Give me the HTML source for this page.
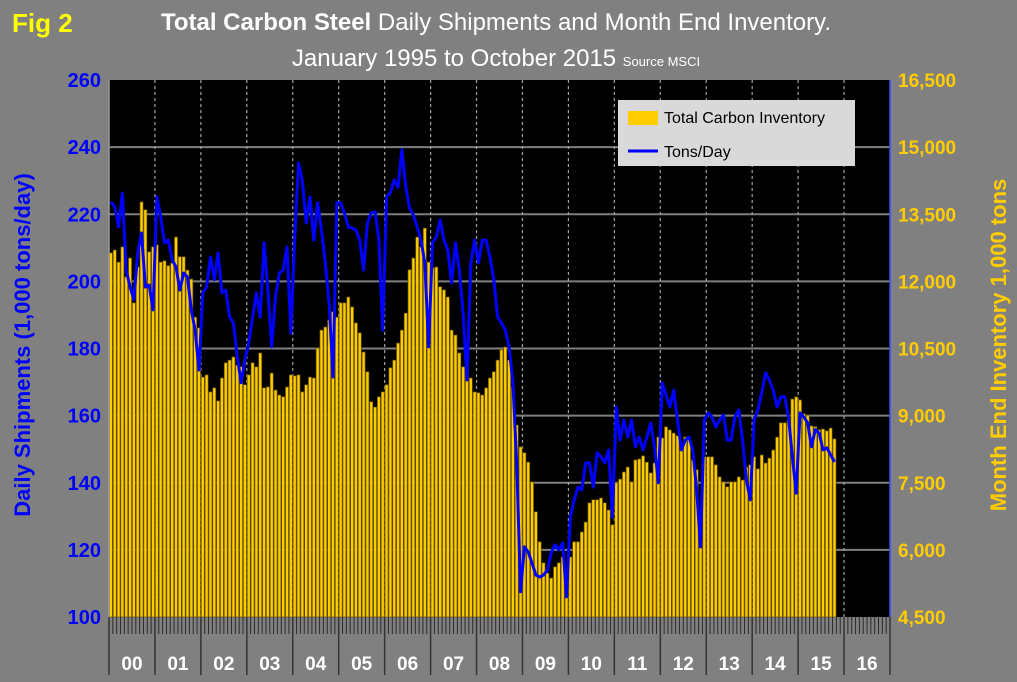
<!DOCTYPE html>
<html><head><meta charset="utf-8"><style>
body{margin:0;background:#808080;}
svg{display:block;font-family:"Liberation Sans",Arial,sans-serif;}
</style></head><body>
<svg id="chart" width="1017" height="682" viewBox="0 0 1017 682">
<rect x="0" y="0" width="1017" height="682" fill="#808080"/>
<text x="12" y="32" font-size="26" font-weight="bold" fill="#ffff00">Fig 2</text>
<text x="496" y="30" font-size="24" fill="#ffffff" text-anchor="middle"><tspan font-weight="bold">Total Carbon Steel</tspan> Daily Shipments and Month End Inventory.</text>
<text x="496" y="66" font-size="24" fill="#ffffff" text-anchor="middle">January 1995 to October 2015 <tspan font-size="13">Source MSCI</tspan></text>
<rect x="109" y="80" width="781" height="537" fill="#000000"/>
<g id="grid"></g><g id="bars"></g><g id="line"></g><g id="axes"></g>
<text transform="translate(30,345) rotate(-90)" font-size="22" font-weight="bold" fill="#0000ff" text-anchor="middle">Daily Shipments (1,000 tons/day)</text>
<text transform="translate(1006,345) rotate(-90)" font-size="22" font-weight="bold" fill="#ffcc00" text-anchor="middle">Month End Inventory 1,000 tons</text>
<g>
<rect x="618" y="100" width="237" height="66" fill="#d9d9d9"/>
<rect x="628" y="111" width="30" height="14" fill="#ffcc00"/>
<text x="664" y="123" font-size="16" fill="#000">Total Carbon Inventory</text>
<line x1="628" y1="151" x2="658" y2="151" stroke="#0000ff" stroke-width="3"/>
<text x="664" y="157" font-size="16" fill="#000">Tons/Day</text>
</g>
</svg>
<script>
const yearLabels=["00","01","02","03","04","05","06","07","08","09","10","11","12","13","14","15","16"];
const leftTicks=[100,120,140,160,180,200,220,240,260];
const rightTicks=["4,500","6,000","7,500","9,000","10,500","12,000","13,500","15,000","16,500"];
const inventory=[
12635,12700,12430,12770,12100,12520,11520,12320,13775,13600,12660,12770,
12815,12430,12460,12350,12410,12990,12550,12550,12250,12050,11200,10960,
9860,9910,9530,9620,9330,9840,10180,10240,10310,10130,10090,9690,
9910,10180,10090,10400,9620,9640,9950,9570,9460,9420,9640,9910,
9890,9910,9530,9690,9860,9840,10510,10910,10980,11140,11320,11200,
11520,11520,11650,11430,11070,10850,10420,9980,9310,9190,9420,9530,
9690,10070,10240,10620,10910,11290,12260,12520,12990,12770,13190,12430,
12300,12320,11880,11810,11650,10910,10800,10400,10090,10020,9840,9530,
9510,9460,9620,9840,9980,10240,10470,10530,10240,9640,8790,8300,
8170,7960,7520,6850,6180,5710,5480,5370,5620,5710,5840,5550,
5840,6180,6180,6400,6620,7050,7120,7120,7160,7050,6890,6560,
7500,7580,7740,7850,7520,8010,8030,8100,7960,7720,7940,8520,
8500,8750,8680,8610,8550,8230,8520,8460,8010,7790,6220,8080,
8080,8080,7900,7630,7520,7410,7520,7520,7630,7560,7850,7900,
8080,7810,8120,7940,8050,8230,8520,8840,8840,8900,9370,9420,
9350,9040,9010,8770,8750,8680,8700,8660,8720,8480];
const tonsPerDay=[
223.7,222.2,216.2,226.3,203.4,198.3,194.5,208.5,214.4,198.3,198.9,191.5,
225.2,219.2,211.5,212.3,206.4,204.3,197.4,202.5,201.3,191.5,185.5,173.6,
196.6,198.3,207.3,200.5,208.5,196.6,197.4,189.4,187.6,177.5,169.8,176.6,
181.7,189.4,196.6,189.4,211.5,197.4,180.5,195.4,202.5,203.4,210.3,184.6,
213.2,235.3,230.2,217.4,225.2,212.3,223.4,215.3,205.5,193.6,171.5,223.4,
223.4,220.4,216.2,215.9,215.3,212.3,203.4,217.4,220.4,220.7,212.3,185.5,
225.2,226.4,230.2,228.0,239.2,228.2,221.9,219.8,216.2,212.3,205.5,180.5,
211.5,213.2,218.3,212.3,209.4,199.5,211.5,203.4,190.6,170.6,205.5,212.3,
205.5,212.3,212.3,207.3,200.5,189.4,187.6,185.5,180.5,169.8,145.9,107.5,
120.9,119.4,116.1,112.5,111.9,112.5,114.0,119.1,121.5,120.0,122.1,106.0,
129.8,134.9,138.7,137.8,145.9,145.9,138.7,148.9,147.7,145.9,149.8,129.8,
162.6,152.7,158.7,153.6,158.7,150.7,153.6,149.8,153.6,157.8,150.7,140.0,
169.8,166.2,162.6,167.6,158.7,149.8,152.7,153.6,149.8,137.8,120.9,158.7,
160.8,159.6,156.6,158.7,160.2,152.7,152.7,159.6,161.7,152.7,140.8,134.9,
158.7,161.7,166.8,172.7,170.6,167.6,162.6,165.6,165.6,159.6,147.7,136.9,
160.8,159.6,157.8,150.7,155.8,154.8,149.8,150.4,148.3,146.2];
const NS="http://www.w3.org/2000/svg";
const X0=109,X1=890,Y0=80,Y1=617,NM=17*12,MW=(X1-X0)/NM;
const xM=i=>X0+i*MW;
const yL=v=>Y1-(v-100)/160*(Y1-Y0);
const yR=v=>Y1-(v-4500)/12000*(Y1-Y0);
function mk(tag,attrs,parent){const e=document.createElementNS(NS,tag);for(const k in attrs)e.setAttribute(k,attrs[k]);parent.appendChild(e);return e;}
const grid=document.getElementById('grid'),bars=document.getElementById('bars'),lineG=document.getElementById('line'),axes=document.getElementById('axes');
leftTicks.forEach((t,i)=>{
  const y=yL(t);
  if(i>0&&i<leftTicks.length-1){const g=mk('line',{x1:X0,x2:X1,y1:y,y2:y,stroke:'#7f7f7f','stroke-width':2},grid);
  
  }
  const a=mk('text',{x:X0-8,y:y+7,'font-size':20,'font-weight':'bold',fill:'#0000ff','text-anchor':'end'},axes);a.textContent=t;
  
  
  const b=mk('text',{x:X1+8,y:y+7,'font-size':19,'font-weight':'bold',fill:'#ffcc00','text-anchor':'start'},axes);b.textContent=rightTicks[i];
  
  
});
for(let k=1;k<yearLabels.length;k++){const x=xM(k*12);const g=mk('line',{x1:x,x2:x,y1:Y0,y2:Y1,stroke:'#a0a0a0','stroke-width':1.2,'stroke-dasharray':'3,3'},grid);
  
  }
inventory.forEach((v,i)=>{const y=yR(v);const r=mk('rect',{x:xM(i)+0.4,y:y,width:MW-0.8,height:Y1-y,fill:'#ffcc00',stroke:'#6b5500','stroke-width':0.7},bars);
  
  });
const pts=tonsPerDay.map((v,i)=>(xM(i)+MW/2).toFixed(1)+','+yL(v).toFixed(1)).join(' ');
const pl=mk('polyline',{points:pts,fill:'none',stroke:'#0000ff','stroke-width':3,'stroke-linejoin':'round'},lineG);


const la=mk('line',{x1:X0,x2:X0,y1:Y0,y2:Y1,stroke:'#999','stroke-width':1.5},axes);


const ra=mk('line',{x1:X1,x2:X1,y1:Y0,y2:Y1,stroke:'#3050ff','stroke-width':1.5},axes);


for(let i=0;i<=NM;i++){const x=xM(i);const big=i%12===0;
  const t=mk('line',{x1:x,x2:x,y1:Y1,y2:big?675:634,stroke:big?'#333':'#2a2a2a','stroke-width':big?1.5:1},axes);
  
  }
yearLabels.forEach((l,k)=>{const t=mk('text',{x:xM(k*12+6),y:670,'font-size':19,'font-weight':'bold',fill:'#ffffff','text-anchor':'middle'},axes);t.textContent=l;
  
  });
</script>
</body></html>
